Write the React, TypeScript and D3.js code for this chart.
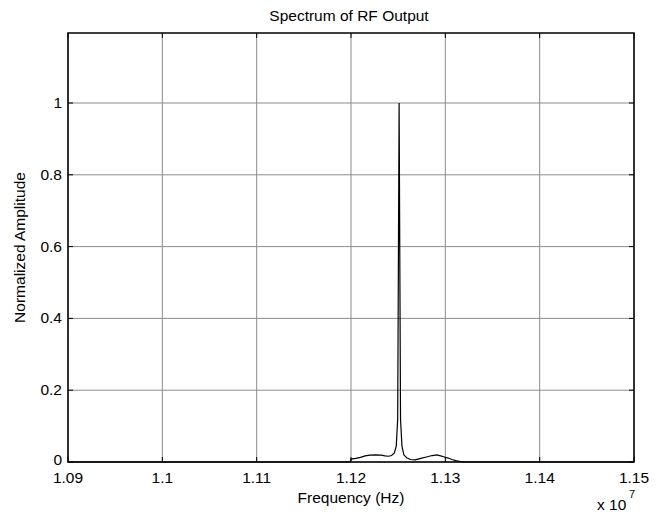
import React from 'react'
import * as d3 from 'd3'

// frequency values in units of 1e7 Hz
const freqs = [
  1.09, 1.1199, 1.12, 1.1205, 1.121, 1.1215, 1.122, 1.1226, 1.1232, 1.1236,
  1.124, 1.1243, 1.1246, 1.1248, 1.12495, 1.1251, 1.12525, 1.1254, 1.1256,
  1.1259, 1.1263, 1.1268, 1.1274, 1.128, 1.1286, 1.1291, 1.1295, 1.1299,
  1.1303, 1.1307, 1.1311, 1.1316, 1.132, 1.15,
]
const amps = [
  0, 0, 0.008, 0.01, 0.013, 0.017, 0.019, 0.02, 0.019, 0.017,
  0.016, 0.018, 0.025, 0.045, 0.12, 1.0, 0.12, 0.045, 0.02,
  0.012, 0.007, 0.006, 0.01, 0.014, 0.018, 0.02, 0.017, 0.014,
  0.011, 0.007, 0.004, 0.001, 0, 0,
]
const xTicks = [1.09, 1.1, 1.11, 1.12, 1.13, 1.14, 1.15]
const yTicks = [0, 0.2, 0.4, 0.6, 0.8, 1]

const W = 662
const H = 515
const margin = { top: 33, right: 28, bottom: 53, left: 68 }
const font = 'Arial, "Liberation Sans", sans-serif'
const fs = 15.5

export default function App() {
  const iw = W - margin.left - margin.right
  const ih = H - margin.top - margin.bottom
  const x = d3.scaleLinear().domain([1.09, 1.15]).range([0, iw])
  const y = d3.scaleLinear().domain([0, 1.195]).range([ih, 0])
  const line = d3.line<number>()
    .x((d, i) => x(freqs[i]))
    .y((d) => y(d))
  const tick = 5

  return (
    <svg width={W} height={H} style={{ position: 'absolute', left: 0, top: 0, background: '#fff' }}>
      <text x={349} y={21} textAnchor="middle" fontFamily={font} fontSize={fs}>
        Spectrum of RF Output
      </text>
      <g transform={`translate(${margin.left},${margin.top})`}>
        {/* grid */}
        {xTicks.map((t) => (
          <line key={'gx' + t} x1={x(t)} x2={x(t)} y1={0} y2={ih} stroke="#8c8c8c" strokeWidth={1} />
        ))}
        {yTicks.map((t) => (
          <line key={'gy' + t} x1={0} x2={iw} y1={y(t)} y2={y(t)} stroke="#8c8c8c" strokeWidth={1} />
        ))}
        {/* spectrum */}
        <path d={line(amps) || ''} fill="none" stroke="#000" strokeWidth={1.2} />
        {/* ticks, inside, mirrored */}
        {xTicks.map((t) => (
          <g key={'tx' + t}>
            <line x1={x(t)} x2={x(t)} y1={ih} y2={ih - tick} stroke="#000" />
            <line x1={x(t)} x2={x(t)} y1={0} y2={tick} stroke="#000" />
            <text x={x(t)} y={ih + 21} textAnchor="middle" fontFamily={font} fontSize={fs}>
              {t}
            </text>
          </g>
        ))}
        {yTicks.map((t) => (
          <g key={'ty' + t}>
            <line x1={0} x2={tick} y1={y(t)} y2={y(t)} stroke="#000" />
            <line x1={iw} x2={iw - tick} y1={y(t)} y2={y(t)} stroke="#000" />
            <text x={-6} y={y(t) + (t === 0 ? 3 : 5)} textAnchor="end" fontFamily={font} fontSize={fs}>
              {t}
            </text>
          </g>
        ))}
        <rect x={0} y={0} width={iw} height={ih} fill="none" stroke="#000" strokeWidth={1.5} />
      </g>
      <text x={margin.left + x(1.12)} y={503} textAnchor="middle" fontFamily={font} fontSize={fs}>
        Frequency (Hz)
      </text>
      <text transform={`translate(25,${margin.top + ih / 2}) rotate(-90)`} textAnchor="middle" fontFamily={font} fontSize={fs}>
        Normalized Amplitude
      </text>
      <text x={597} y={510} fontFamily={font} fontSize={fs}>
        x 10
      </text>
      <text x={629} y={498} fontFamily={font} fontSize={11}>
        7
      </text>
    </svg>
  )
}
